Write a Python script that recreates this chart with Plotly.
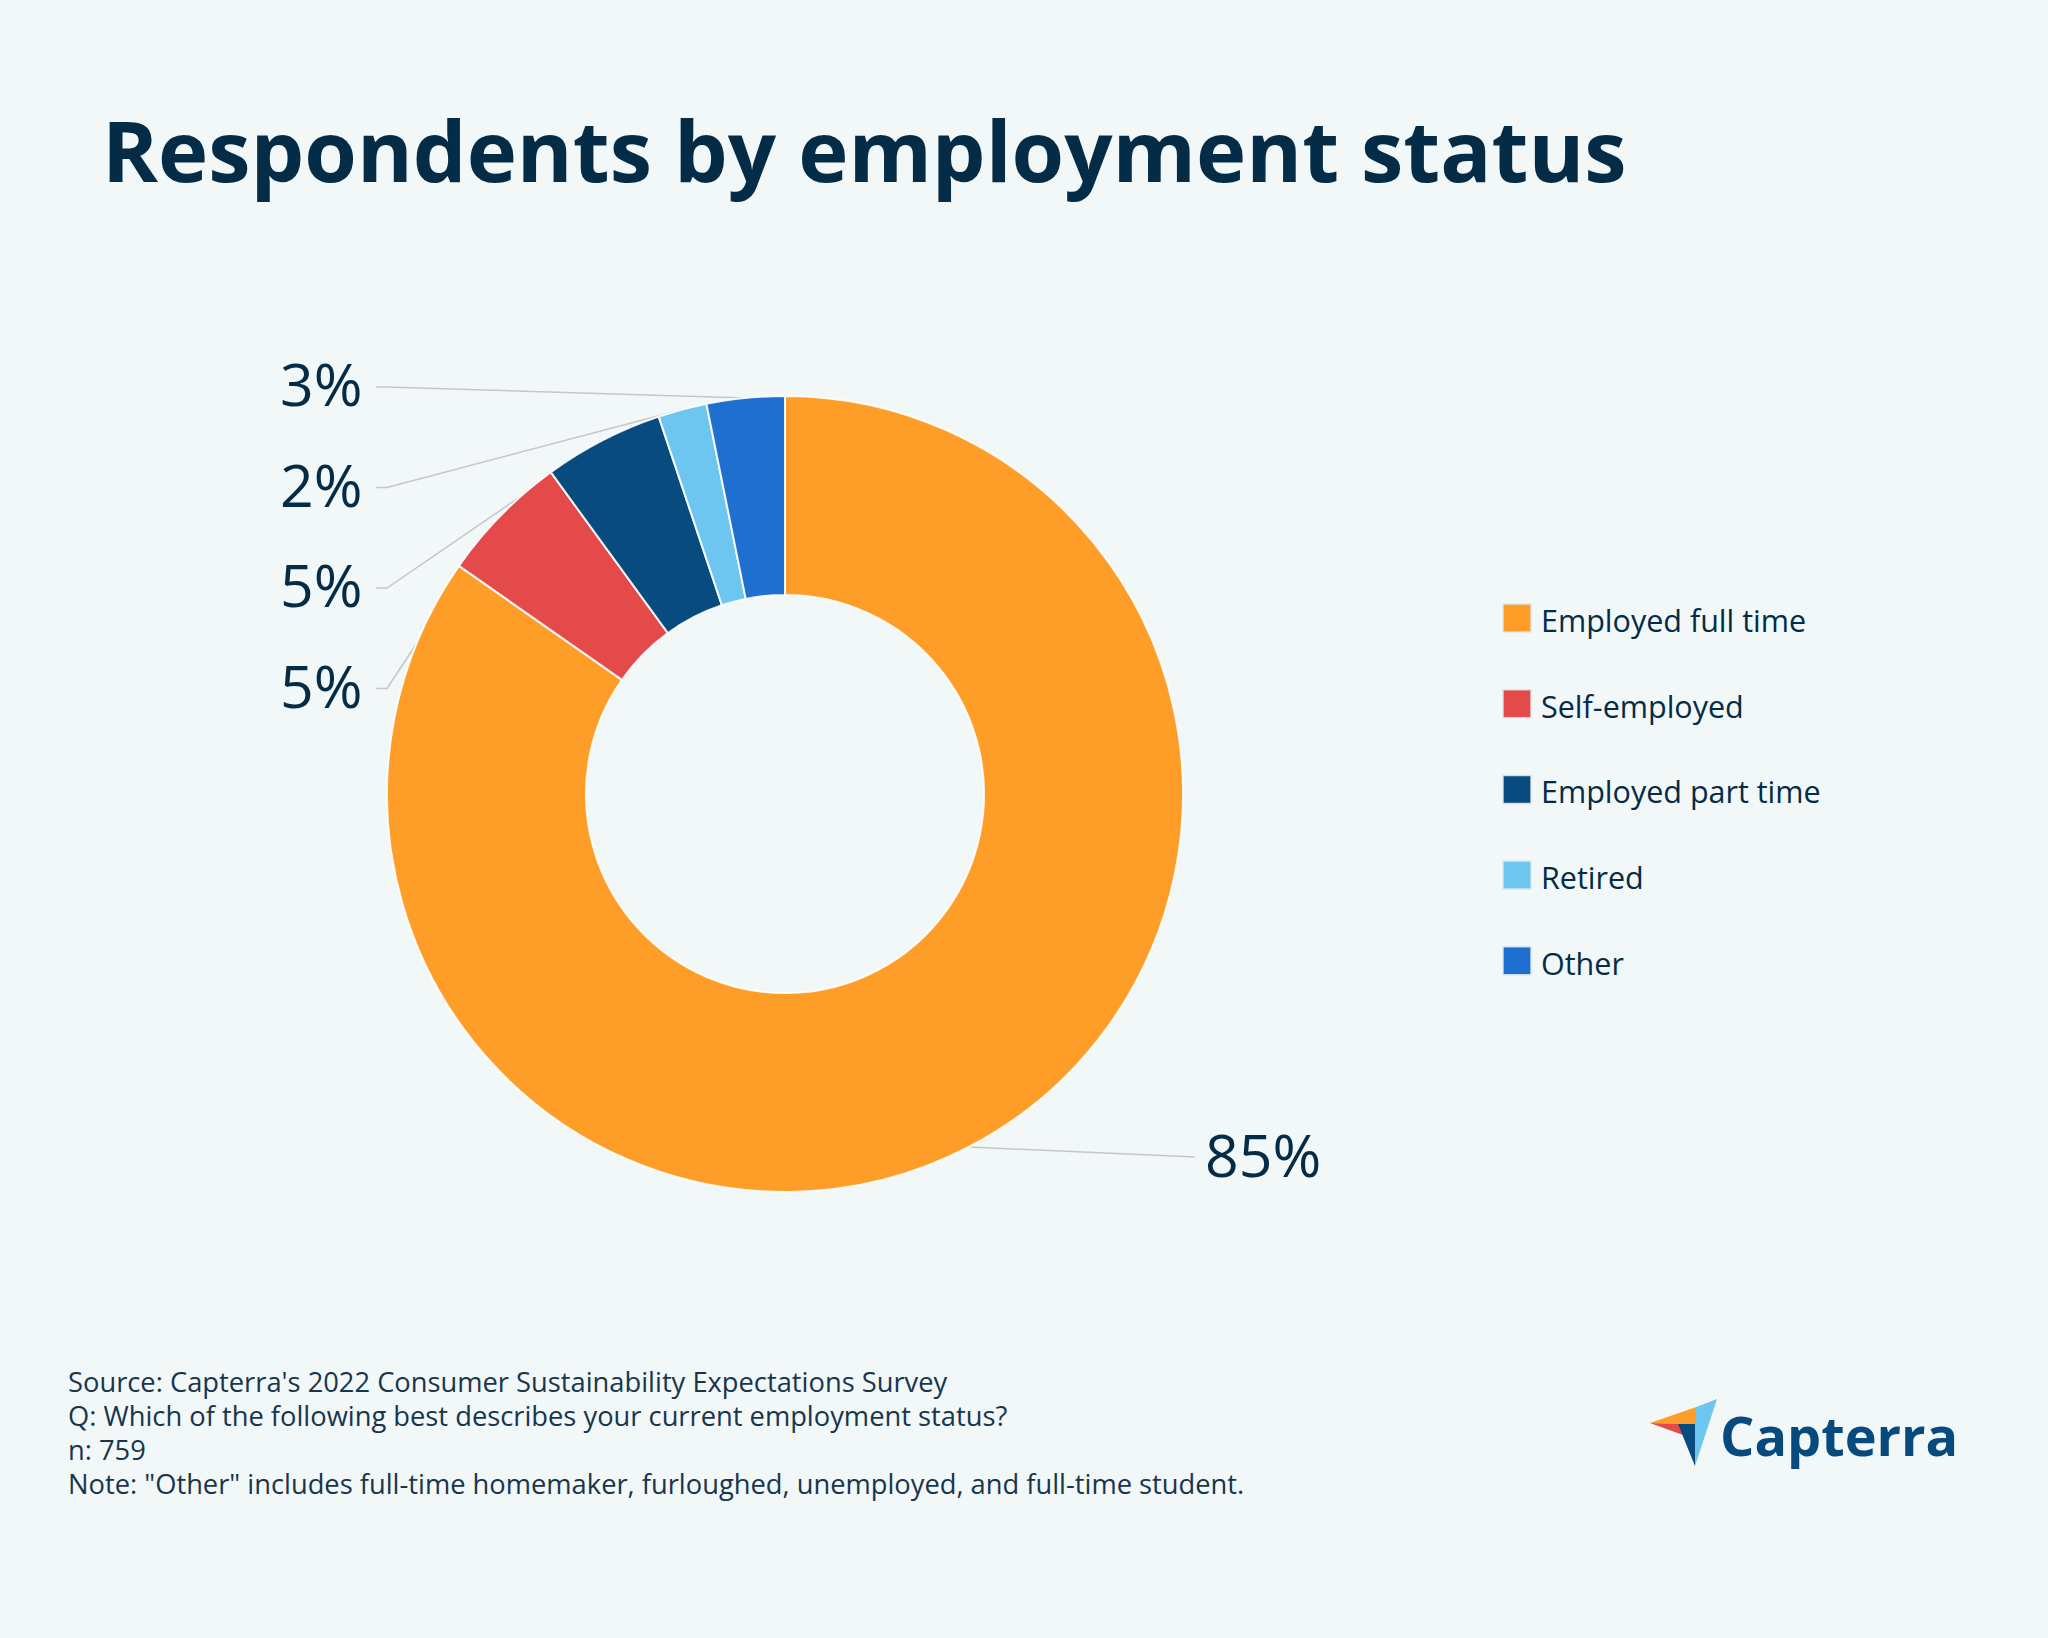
import math
import plotly.graph_objects as go

W, H = 2048, 1638

# ---- data ----
categories = ["Employed full time", "Self-employed", "Employed part time", "Retired", "Other"]
counts = [643, 40, 37, 15, 24]          # n = 759
colors = ["#FF9D29", "#E54A4A", "#084B7E", "#6CC6EF", "#1F6FD1"]
title_text = "Respondents by employment status"
footer_lines = [
    "Source: Capterra's 2022 Consumer Sustainability Expectations Survey",
    "Q: Which of the following best describes your current employment status?",
    "n: 759",
    "Note: \"Other\" includes full-time homemaker, furloughed, unemployed, and full-time student.",
]

# ---- layout constants (pixels) ----
BG = "#F2F7F8"
NAVY = "#042C47"
CX, CY, R = 785, 794, 398
HOLE = 0.5

def px_x(x):
    return x / W

def px_y(y):
    return 1 - y / H

fig = go.Figure()

fig.add_trace(go.Pie(
    labels=categories, values=counts, hole=HOLE, sort=False,
    direction="clockwise", rotation=0,
    marker=dict(colors=colors, line=dict(color="rgba(255,255,255,0.9)", width=2)),
    textinfo="none", hoverinfo="label+percent", showlegend=False,
    domain=dict(x=[px_x(CX - R), px_x(CX + R)], y=[px_y(CY + R), px_y(CY - R)]),
))

# ---- slice geometry from data ----
total = sum(counts)
mids = []
cum = 0
for v in counts:
    m = (cum + v / 2) / total
    cum += v
    th = 2 * math.pi * m
    mids.append((CX + R * math.sin(th), CY - R * math.cos(th)))
pcts = [round(v / total * 100) for v in counts]

annotations = []
# left column labels for the small slices, ordered from the top
left_order = [4, 3, 2, 1]
LEFT_TOP, LEFT_STEP = 387, 100.5
LABEL_FONT = dict(family="Open Sans", size=59, color=NAVY)
for k, i in enumerate(left_order):
    ly = LEFT_TOP + k * LEFT_STEP
    sx, sy = mids[i]
    fig.add_trace(go.Scatter(
        x=[376, 387, sx], y=[ly, ly, sy], mode="lines",
        line=dict(color="#C3C7C9", width=1.5), hoverinfo="skip", showlegend=False,
    ))
    annotations.append(dict(
        x=px_x(365), y=px_y(ly - 4), xref="paper", yref="paper",
        text=f"{pcts[i]}%", showarrow=False, xanchor="right", yanchor="middle",
        font=LABEL_FONT,
    ))
# right label for the big slice
sx, sy = mids[0]
ry = 1157
fig.add_trace(go.Scatter(
    x=[sx, 1195], y=[sy, ry], mode="lines",
    line=dict(color="#C3C7C9", width=1.5), hoverinfo="skip", showlegend=False,
))
annotations.append(dict(
    x=px_x(1203), y=px_y(ry - 3), xref="paper", yref="paper",
    text=f"{pcts[0]}%", showarrow=False, xanchor="left", yanchor="middle",
    font=LABEL_FONT,
))

# ---- custom legend ----
LEG_X, LEG_Y0, LEG_STEP = 1517, 618, 85.7
leg_y = [LEG_Y0 + i * LEG_STEP for i in range(len(categories))]
fig.add_trace(go.Scatter(
    x=[LEG_X] * len(categories), y=leg_y, mode="markers",
    marker=dict(symbol="square", size=28, color=colors,
                line=dict(color="rgba(220,230,235,0.9)", width=1.5)),
    hoverinfo="skip", showlegend=False,
))
for cat, y in zip(categories, leg_y):
    annotations.append(dict(
        x=px_x(1539), y=px_y(y + 2), xref="paper", yref="paper", text=cat,
        showarrow=False, xanchor="left", yanchor="middle",
        font=dict(family="Open Sans", size=30.5, color=NAVY),
    ))

# ---- title ----
annotations.append(dict(
    x=px_x(100), y=px_y(149), xref="paper", yref="paper", text=f"<b>{title_text}</b>",
    showarrow=False, xanchor="left", yanchor="middle",
    font=dict(family="Open Sans", size=85, color=NAVY),
))

# ---- footer ----
for k, line in enumerate(footer_lines):
    annotations.append(dict(
        x=px_x(66), y=px_y(1381 + k * 34.3), xref="paper", yref="paper", text=line,
        showarrow=False, xanchor="left", yanchor="middle",
        font=dict(family="Open Sans", size=27.3, color="#17364D"),
    ))

# ---- Capterra logo ----
annotations.append(dict(
    x=px_x(1718), y=px_y(1435), xref="paper", yref="paper", text="<b>Capterra</b>",
    showarrow=False, xanchor="left", yanchor="middle",
    font=dict(family="Open Sans", size=54, color="#064A7E"),
))

def path(pts):
    return "M " + " L ".join(f"{px_x(x):.5f},{px_y(y):.5f}" for x, y in pts) + " Z"

logo = [
    ([(1650, 1423), (1695, 1407.5), (1695, 1424), (1679, 1424)], "#FF9D29"),
    ([(1650, 1423), (1679, 1424), (1683, 1435)], "#E54A4A"),
    ([(1678, 1424), (1695, 1424), (1695, 1466)], "#084B7E"),
    ([(1695, 1407.5), (1717, 1399), (1695, 1466)], "#6CC6EF"),
]
shapes = [dict(type="path", xref="paper", yref="paper", path=path(p),
               fillcolor=c, line=dict(width=0), layer="above") for p, c in logo]

fig.update_layout(
    width=W, height=H, margin=dict(l=0, r=0, t=0, b=0),
    paper_bgcolor=BG, plot_bgcolor=BG,
    xaxis=dict(range=[0, W], visible=False, domain=[0, 1], fixedrange=True),
    yaxis=dict(range=[H, 0], visible=False, domain=[0, 1], fixedrange=True),
    annotations=annotations, shapes=shapes, showlegend=False,
    font=dict(family="Open Sans"),
)

fig.write_html(
    "out.html",
    config={"displayModeBar": False},
    post_script="document.body.style.margin='0px';document.body.style.overflow='hidden';",
)
